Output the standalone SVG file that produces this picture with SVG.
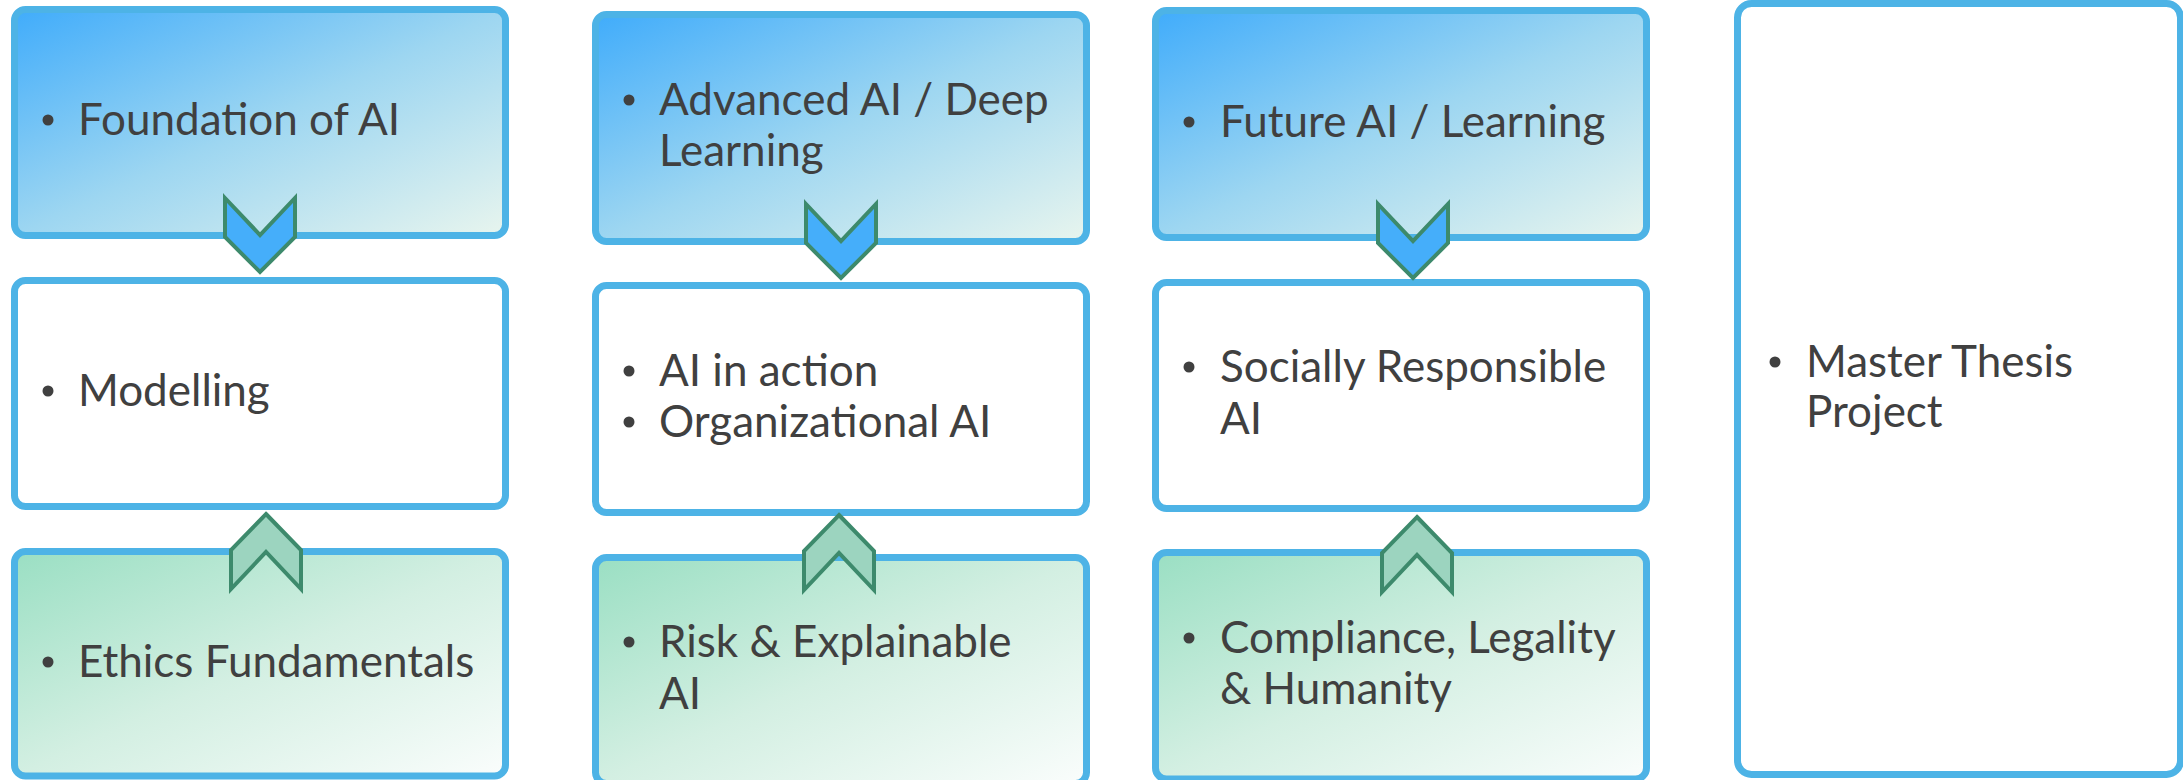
<svg xmlns="http://www.w3.org/2000/svg" width="2183" height="780" viewBox="0 0 2183 780">
  <defs>
    <linearGradient id="gBlue" x1="0" y1="0" x2="1" y2="1">
      <stop offset="0" stop-color="#40acfb"/>
      <stop offset="0.5" stop-color="#9dd6f1"/>
      <stop offset="1" stop-color="#e8f5ee"/>
    </linearGradient>
    <linearGradient id="gGreen" x1="0" y1="0" x2="1" y2="1">
      <stop offset="0" stop-color="#9adfc3"/>
      <stop offset="0.5" stop-color="#d3efe2"/>
      <stop offset="1" stop-color="#fafdfc"/>
    </linearGradient>
    <style>
      .box { stroke: #4db3e6; stroke-width: 7; }
      .blue { fill: url(#gBlue); }
      .green { fill: url(#gGreen); }
      .white { fill: #ffffff; }
      .t { font-family: Lato, "Open Sans", "Liberation Sans", sans-serif; font-size: 44px; fill: #404040; }
      .dot { fill: #404040; }
      .down { fill: #45aefa; stroke: #3d8a6c; stroke-width: 4; }
      .up { fill: #9cd4bf; stroke: #3d8a6c; stroke-width: 4; }
    </style>
  </defs>

  <!-- Column 1 -->
  <g id="foundation">
    <rect class="box blue" x="14.5" y="9.5" width="491" height="226" rx="11"/>
    <circle class="dot" cx="48" cy="120" r="5.5"/>
    <text class="t" x="78" y="135">Foundation of AI</text>
  </g>
  <g id="modelling">
    <rect class="box white" x="14.5" y="280.5" width="491" height="226" rx="11"/>
    <circle class="dot" cx="48" cy="391" r="5.5"/>
    <text class="t" x="78" y="406">Modelling</text>
  </g>
  <g id="ethics">
    <rect class="box green" x="14.5" y="551.5" width="491" height="224.5" rx="11"/>
    <circle class="dot" cx="48" cy="662" r="5.5"/>
    <text class="t" x="78" y="677">Ethics Fundamentals</text>
  </g>

  <!-- Column 2 -->
  <g id="advanced">
    <rect class="box blue" x="595.5" y="14.5" width="491" height="227" rx="11"/>
    <circle class="dot" cx="629" cy="100" r="5.5"/>
    <text class="t" x="659" y="115">Advanced AI / Deep</text>
    <text class="t" x="659" y="166">Learning</text>
  </g>
  <g id="action">
    <rect class="box white" x="595.5" y="285.5" width="491" height="227" rx="11"/>
    <circle class="dot" cx="629" cy="371" r="5.5"/>
    <text class="t" x="659" y="386">AI in action</text>
    <circle class="dot" cx="629" cy="422" r="5.5"/>
    <text class="t" x="659" y="437">Organizational AI</text>
  </g>
  <g id="risk">
    <rect class="box green" x="595.5" y="557.5" width="491" height="226" rx="11"/>
    <circle class="dot" cx="629" cy="642" r="5.5"/>
    <text class="t" x="659" y="657">Risk &amp; Explainable</text>
    <text class="t" x="659" y="709">AI</text>
  </g>

  <!-- Column 3 -->
  <g id="future">
    <rect class="box blue" x="1155.5" y="10.5" width="491" height="227" rx="11"/>
    <circle class="dot" cx="1189" cy="122" r="5.5"/>
    <text class="t" x="1220" y="137">Future AI / Learning</text>
  </g>
  <g id="social">
    <rect class="box white" x="1155.5" y="282.5" width="491" height="226" rx="11"/>
    <circle class="dot" cx="1189" cy="367" r="5.5"/>
    <text class="t" x="1220" y="382">Socially Responsible</text>
    <text class="t" x="1220" y="434">AI</text>
  </g>
  <g id="compliance">
    <rect class="box green" x="1155.5" y="552.5" width="491" height="226.5" rx="11"/>
    <circle class="dot" cx="1189" cy="638" r="5.5"/>
    <text class="t" x="1220" y="653">Compliance, Legality</text>
    <text class="t" x="1220" y="704">&amp; Humanity</text>
  </g>

  <!-- Master -->
  <g id="master">
    <rect class="box white" x="1737.5" y="3.5" width="443" height="771" rx="14"/>
    <circle class="dot" cx="1775" cy="362" r="5.5"/>
    <text class="t" x="1806" y="377">Master Thesis</text>
    <text class="t" x="1806" y="427">Project</text>
  </g>

  <!-- Connectors (chevrons) -->
  <g id="connectors">
    <polygon class="down" points="225,198 260,235 295,198 295,237 260,272 225,237"/>
    <polygon class="down" points="806,204 841,241 876,204 876,243 841,278 806,243"/>
    <polygon class="down" points="1378,204 1413,241 1448,204 1448,243 1413,278 1378,243"/>
    <polygon class="up" points="266,514 301,550 301,589 266,552 231,589 231,550"/>
    <polygon class="up" points="839,515 874,551 874,590 839,553 804,590 804,551"/>
    <polygon class="up" points="1417,517 1452,553 1452,592 1417,555 1382,592 1382,553"/>
  </g>
</svg>
